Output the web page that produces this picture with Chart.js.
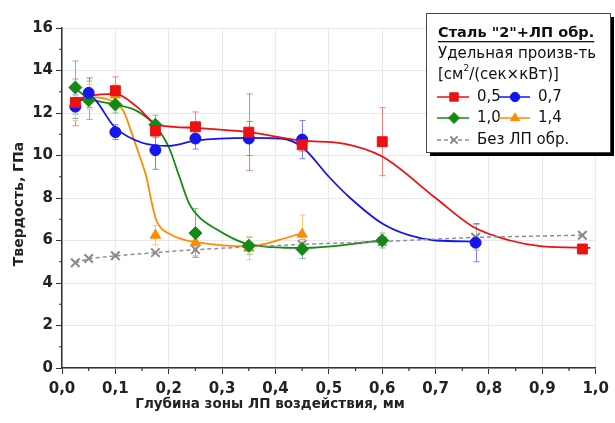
<!DOCTYPE html>
<html>
<head>
<meta charset="utf-8">
<script src="https://cdn.jsdelivr.net/npm/chart.js@4.4.1/dist/chart.umd.min.js"></script>
<style>
  html, body { margin: 0; padding: 0; background: #fff; }
</style>
</head>
<body>
<canvas id="chart" width="615" height="423"></canvas>
<script>
// Measured points (depth, mm / hardness, GPa / error)
const depth05 = [0.025, 0.1, 0.175, 0.25, 0.35, 0.45, 0.6, 0.975];
const hard05 = [12.5, 13.05, 11.15, 11.35, 11.1, 10.5, 10.65, 5.6];
const err05 = [1.1, 0.65, 0.3, 0.7, 1.8, 0.3, 1.6, 0.1];

const depth07 = [0.025, 0.05, 0.1, 0.175, 0.25, 0.35, 0.45, 0.775];
const hard07 = [12.3, 12.95, 11.1, 10.25, 10.8, 10.8, 10.75, 5.9];
const err07 = [0.55, 0.7, 0.35, 0.9, 0.5, 0.8, 0.9, 0.9];

const depth10 = [0.025, 0.05, 0.1, 0.175, 0.25, 0.35, 0.45, 0.6];
const hard10 = [13.2, 12.6, 12.4, 11.45, 6.35, 5.75, 5.6, 6.0];
const err10 = [1.25, 0.9, 0.4, 0.45, 1.15, 0.4, 0.45, 0.35];

const depth14 = [0.025, 0.05, 0.1, 0.175, 0.25, 0.35, 0.45];
const hard14 = [12.45, 12.75, 12.85, 6.25, 5.9, 5.65, 6.3];
const err14 = [0.8, 0.6, 0.5, 0.45, 0.4, 0.55, 0.9];

const depthRef = [0.025, 0.05, 0.1, 0.175, 0.25, 0.35, 0.45, 0.6, 0.775, 0.975];
const hardRef = [4.95, 5.15, 5.28, 5.43, 5.57, 5.7, 5.82, 5.95, 6.15, 6.25];
const errRef = [0, 0, 0, 0, 0.3, 0, 0, 0, 0.6, 0];

// Fitted curves
const fitX05 = [0.025, 0.05, 0.1, 0.14, 0.175, 0.21, 0.25, 0.35, 0.45, 0.53, 0.6, 0.7, 0.77, 0.84, 0.9, 0.99];
const fitY05 = [12.6, 12.8, 12.9, 12.3, 11.5, 11.35, 11.3, 11.1, 10.7, 10.55, 9.95, 8.0, 6.65, 6.0, 5.72, 5.65];

const fitX07 = [0.025, 0.05, 0.1, 0.15, 0.2, 0.25, 0.35, 0.41, 0.45, 0.5, 0.54, 0.6, 0.65, 0.7, 0.775];
const fitY07 = [12.4, 12.8, 11.3, 10.6, 10.45, 10.7, 10.83, 10.8, 10.4, 9.0, 8.0, 6.8, 6.25, 6.0, 5.95];

const fitX10 = [0.025, 0.05, 0.1, 0.14, 0.175, 0.2, 0.22, 0.238, 0.257, 0.288, 0.32, 0.35, 0.45, 0.6];
const fitY10 = [13.15, 12.7, 12.4, 12.1, 11.4, 10.4, 9.0, 7.75, 7.1, 6.55, 6.1, 5.82, 5.65, 6.0];

const fitX14 = [0.025, 0.05, 0.09, 0.115, 0.13, 0.145, 0.158, 0.168, 0.176, 0.185, 0.195, 0.22, 0.25, 0.35, 0.41, 0.45];
const fitY14 = [12.55, 12.75, 12.6, 12.1, 11.1, 10.0, 9.0, 7.8, 7.0, 6.6, 6.4, 6.1, 5.92, 5.72, 6.05, 6.35];

const xTickLabels = ['0,0', '0,1', '0,2', '0,3', '0,4', '0,5', '0,6', '0,7', '0,8', '0,9', '1,0'];

const RED = '#ee1111';
const BLUE = '#1515ee';
const GREEN = '#138a13';
const ORANGE = '#ff8c00';
const GRAY = '#8a8a8a';

function pts(xs, ys) {
    return xs.map((x, i) => ({ x: x, y: ys[i] }));
}

function markers(label, xs, ys, errs, color, errColor, style, radius) {
    return {
        label: label,
        data: pts(xs, ys),
        errs: errs,
        errColor: errColor,
        showLine: false,
        pointStyle: style,
        pointRadius: radius,
        pointBackgroundColor: color,
        pointBorderColor: color,
        pointBorderWidth: 1,
        order: 1
    };
}

function fitLine(xs, ys, color) {
    return {
        data: pts(xs, ys),
        showLine: true,
        borderColor: color,
        borderWidth: 1.8,
        pointRadius: 0,
        cubicInterpolationMode: 'monotone',
        fill: false,
        order: 5
    };
}

const datasets = [
    markers('0,5', depth05, hard05, err05, RED, '#f08080', 'rect', 7),
    markers('0,7', depth07, hard07, err07, BLUE, '#7f7ff0', 'circle', 5.5),
    markers('1,0', depth10, hard10, err10, GREEN, '#7fbf7f', 'rectRot', 6.5),
    markers('1,4', depth14, hard14, err14, ORANGE, '#ffc27f', 'triangle', 6),
    {
        label: 'Без ЛП обр.',
        data: pts(depthRef, hardRef),
        errs: errRef,
        errColor: '#b0b0b0',
        showLine: true,
        borderColor: '#8d8d9e',
        borderWidth: 1.5,
        borderDash: [4, 3],
        pointStyle: 'crossRot',
        pointRadius: 6,
        pointBorderColor: GRAY,
        pointBorderWidth: 2,
        order: 3
    },
    fitLine(fitX05, fitY05, RED),
    fitLine(fitX07, fitY07, BLUE),
    fitLine(fitX10, fitY10, GREEN),
    fitLine(fitX14, fitY14, ORANGE)
];

const FONT = '"DejaVu Sans", sans-serif';

const decorPlugin = {
    id: 'decor',
    beforeDatasetsDraw(chart) {
        // error bars
        const ctx = chart.ctx;
        const xs = chart.scales.x, ys = chart.scales.y;
        ctx.save();
        chart.data.datasets.forEach((ds) => {
            if (!ds.errs) return;
            ctx.strokeStyle = ds.errColor;
            ctx.lineWidth = 1;
            ds.data.forEach((p, i) => {
                const e = ds.errs[i];
                if (!e) return;
                const px = Math.round(xs.getPixelForValue(p.x)) + 0.5;
                const top = ys.getPixelForValue(p.y + e);
                const bot = ys.getPixelForValue(p.y - e);
                ctx.beginPath();
                ctx.moveTo(px, top); ctx.lineTo(px, bot);
                ctx.moveTo(px - 3, top); ctx.lineTo(px + 3, top);
                ctx.moveTo(px - 3, bot); ctx.lineTo(px + 3, bot);
                ctx.stroke();
            });
        });
        ctx.restore();
    },
    afterDraw(chart) {
        const ctx = chart.ctx;
        const xs = chart.scales.x, ys = chart.scales.y;
        const area = chart.chartArea;
        ctx.save();

        // minor ticks
        ctx.strokeStyle = '#333';
        ctx.lineWidth = 1.2;
        ctx.beginPath();
        for (let v = 0.05; v < 1; v += 0.1) {
            const px = xs.getPixelForValue(v);
            ctx.moveTo(px, area.bottom); ctx.lineTo(px, area.bottom + 3);
        }
        for (let v = 1; v < 16; v += 2) {
            const py = ys.getPixelForValue(v);
            ctx.moveTo(area.left, py); ctx.lineTo(area.left - 3, py);
        }
        ctx.stroke();

        // axis titles
        ctx.fillStyle = '#222';
        ctx.font = 'bold 13.5px ' + FONT;
        ctx.textAlign = 'center';
        ctx.textBaseline = 'middle';
        ctx.fillText('Глубина зоны ЛП воздействия, мм', 270, 404);
        ctx.save();
        ctx.translate(19, 204);
        ctx.rotate(-Math.PI / 2);
        ctx.font = 'bold 14px ' + FONT;
        ctx.fillText('Твердость, ГПа', 0, 0);
        ctx.restore();

        // legend box
        const bx = 426, by = 13, bw = 184, bh = 139;
        ctx.fillStyle = '#000';
        ctx.fillRect(bx + 4, by + 4, bw, bh);
        ctx.fillStyle = '#fff';
        ctx.fillRect(bx, by, bw, bh);
        ctx.strokeStyle = '#444';
        ctx.lineWidth = 1;
        ctx.strokeRect(bx + 0.5, by + 0.5, bw, bh);

        ctx.textAlign = 'left';
        ctx.fillStyle = '#111';
        ctx.font = 'bold 14.5px ' + FONT;
        const title = 'Сталь "2"+ЛП обр.';
        ctx.fillText(title, 438, 33);
        const tw = ctx.measureText(title).width;
        ctx.fillRect(438, 41, tw, 1.3);

        ctx.font = '15px ' + FONT;
        ctx.fillText('Удельная произв-ть', 438, 54);
        let tx = 438;
        ctx.fillText('[см', tx, 75);
        tx += ctx.measureText('[см').width;
        ctx.font = '9px ' + FONT;
        ctx.fillText('2', tx, 69);
        tx += ctx.measureText('2').width;
        ctx.font = '15px ' + FONT;
        ctx.fillText('/(сек×кВт)]', tx, 75);

        function entry(ds, x, y, text) {
            ctx.save();
            if (ds.borderDash) {
                ctx.strokeStyle = ds.borderColor;
                ctx.setLineDash(ds.borderDash);
            } else {
                ctx.strokeStyle = ds.pointBackgroundColor;
            }
            ctx.lineWidth = 1.5;
            ctx.beginPath();
            ctx.moveTo(x, y); ctx.lineTo(x + 32, y);
            ctx.stroke();
            ctx.restore();
            ctx.save();
            ctx.fillStyle = ds.pointBackgroundColor || '#fff';
            ctx.strokeStyle = ds.pointBorderColor;
            ctx.lineWidth = ds.pointBorderWidth;
            Chart.helpers.drawPoint(ctx, {
                pointStyle: ds.pointStyle,
                radius: ds.pointRadius * 0.85,
                borderWidth: ds.pointBorderWidth
            }, x + 17, y);
            ctx.restore();
            ctx.fillStyle = '#111';
            ctx.font = '15px ' + FONT;
            ctx.fillText(text, x + 40, y);
        }
        const ds = chart.data.datasets;
        entry(ds[0], 437, 97, '0,5');
        entry(ds[1], 498, 97, '0,7');
        entry(ds[2], 437, 118, '1,0');
        entry(ds[3], 498, 118, '1,4');
        entry(ds[4], 437, 140, 'Без ЛП обр.');

        ctx.restore();
    }
};

new Chart(document.getElementById('chart'), {
    type: 'scatter',
    data: { datasets: datasets },
    options: {
        responsive: false,
        animation: false,
        events: [],
        layout: { padding: { top: 28, right: 13, left: 0, bottom: 0 } },
        plugins: {
            legend: { display: false },
            tooltip: { enabled: false }
        },
        scales: {
            x: {
                type: 'linear',
                min: 0,
                max: 1,
                afterFit: (scale) => { scale.height = 55; },
                ticks: {
                    stepSize: 0.1,
                    padding: 6,
                    color: '#222',
                    font: { family: FONT, size: 15, weight: 'bold' },
                    callback: (v, i) => xTickLabels[i]
                },
                grid: { color: '#e9e9e9', tickColor: '#333', tickLength: 6, lineWidth: 1 },
                border: { color: '#333', width: 1.5 }
            },
            y: {
                min: 0,
                max: 16,
                afterFit: (scale) => { scale.width = 62; },
                ticks: {
                    stepSize: 2,
                    padding: 3,
                    color: '#222',
                    font: { family: FONT, size: 15, weight: 'bold' }
                },
                grid: { color: '#e9e9e9', tickColor: '#333', tickLength: 6, lineWidth: 1 },
                border: { color: '#333', width: 1.5 }
            }
        }
    },
    plugins: [decorPlugin]
});
</script>
</body>
</html>
